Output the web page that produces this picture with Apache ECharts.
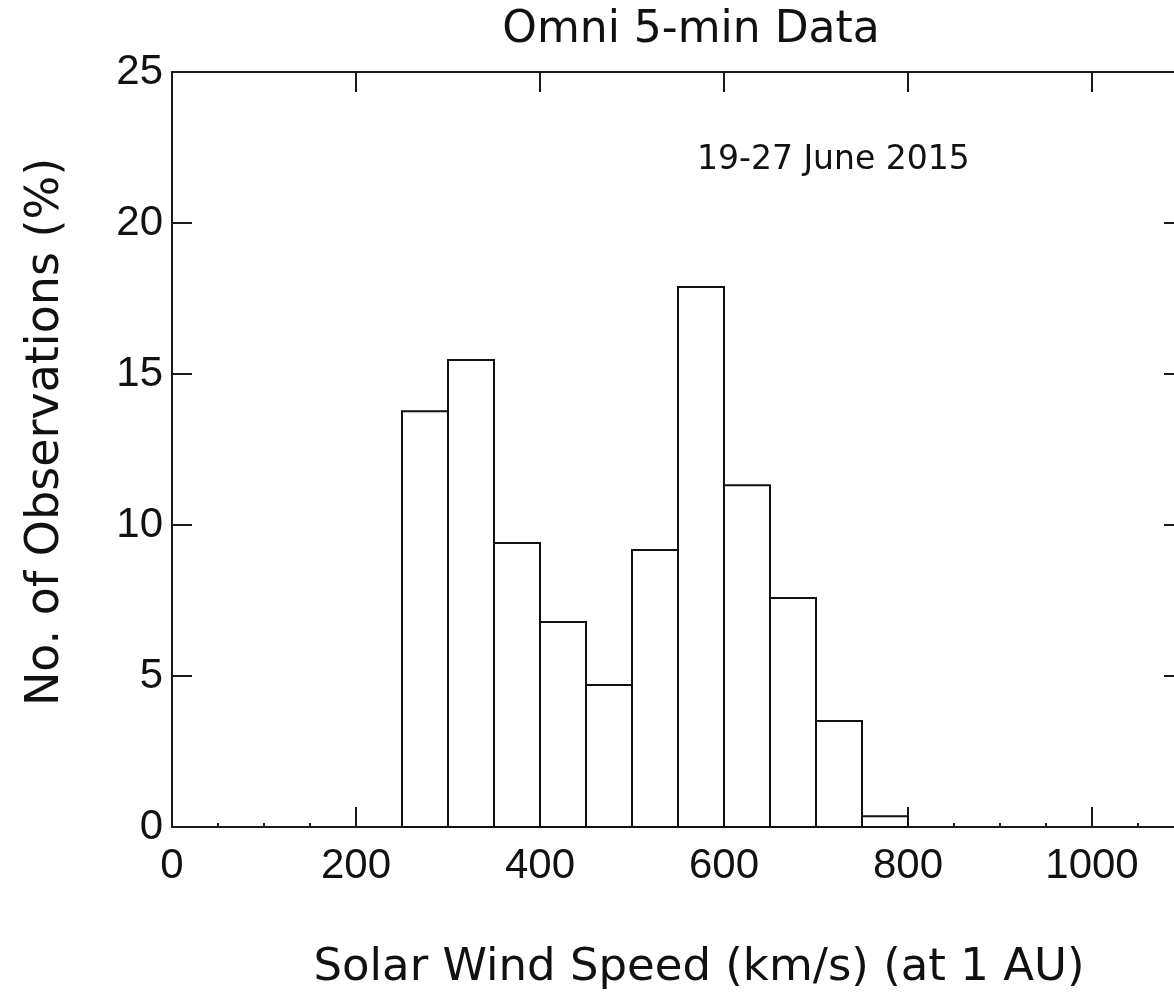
<!DOCTYPE html>
<html>
<head>
<meta charset="utf-8">
<script src="https://cdn.jsdelivr.net/npm/echarts@6/dist/echarts.min.js"></script>
<style>
html,body{margin:0;padding:0;background:#fff;}
#chart{width:1174px;height:1005px;}
</style>
</head>
<body>
<div id="chart"></div>
<script>
// Histogram data: solar wind speed bins (km/s) and % of observations
const binStart = [250, 300, 350, 400, 450, 500, 550, 600, 650, 700, 750];
const binEnd   = [300, 350, 400, 450, 500, 550, 600, 650, 700, 750, 800];
const percent  = [13.77, 15.46, 9.40, 6.79, 4.70, 9.17, 17.88, 11.32, 7.58, 3.51, 0.36];
const xTicks = [0, 200, 400, 600, 800, 1000];
const yTicks = [0, 5, 10, 15, 20, 25];
const titleText = 'Omni 5-min Data';
const dateText = '19-27 June 2015';
const xTitle = 'Solar Wind Speed (km/s) (at 1 AU)';
const yTitle = 'No. of Observations (%)';

const histData = binStart.map((s, i) => [s, binEnd[i], percent[i]]);

const chart = echarts.init(document.getElementById('chart'), null, {renderer: 'canvas'});
const axisColor = '#1a1a1a';
const labelFont = {fontFamily: 'Liberation Sans', fontSize: 42, color: '#111'};
const titleFont = 'DejaVu Sans';

const baseX = {
  type: 'value', min: 0, max: 1100, interval: 200,
  axisLine: {show: true, onZero: false, lineStyle: {color: axisColor, width: 2}},
  axisTick: {show: true, inside: true, length: 20, lineStyle: {color: axisColor, width: 2}},
  splitLine: {show: false}
};
const baseY = {
  type: 'value', min: 0, max: 25, interval: 5,
  axisLine: {show: true, onZero: false, lineStyle: {color: axisColor, width: 2}},
  axisTick: {show: true, inside: true, length: 20, lineStyle: {color: axisColor, width: 2}},
  splitLine: {show: false}
};

chart.setOption({
  animation: false,
  backgroundColor: '#fff',
  grid: {left: 172, top: 72, width: 1012, height: 755, containLabel: false, outerBoundsMode: 'none'},
  xAxis: [
    Object.assign({}, baseX, {position: 'bottom',
      minorTick: {show: true, splitNumber: 4, length: 4, lineStyle: {color: axisColor, width: 2}},
      axisLabel: Object.assign({show: true, margin: 18, showMaxLabel: false,
        formatter: v => (xTicks.indexOf(v) >= 0 ? String(v) : '')}, labelFont)}),
    Object.assign({}, baseX, {position: 'top', axisLabel: {show: false}})
  ],
  yAxis: [
    Object.assign({}, baseY, {position: 'left',
      axisLabel: Object.assign({show: true, margin: 9,
        formatter: v => (yTicks.indexOf(v) >= 0 ? String(v) : '')}, labelFont)}),
    Object.assign({}, baseY, {position: 'right', axisLabel: {show: false}})
  ],
  graphic: [
    {type: 'text', x: 691, y: 31, style: {text: titleText, font: '44px "' + titleFont + '"', fill: '#111', align: 'center', verticalAlign: 'middle'}},
    {type: 'text', x: 697, y: 160, style: {text: dateText, font: '33px "' + titleFont + '"', fill: '#111', align: 'left', verticalAlign: 'middle'}},
    {type: 'text', x: 699, y: 968, style: {text: xTitle, font: '45px "' + titleFont + '"', fill: '#111', align: 'center', verticalAlign: 'middle'}},
    {type: 'text', x: 46, y: 432, rotation: Math.PI / 2, style: {text: yTitle, font: '46px "' + titleFont + '"', fill: '#111', align: 'center', verticalAlign: 'middle'}}
  ],
  series: [{
    type: 'custom',
    xAxisIndex: 0, yAxisIndex: 0,
    data: histData,
    clip: false,
    renderItem: function (params, api) {
      const p0 = api.coord([api.value(0), 0]);
      const p1 = api.coord([api.value(1), api.value(2)]);
      return {
        type: 'rect',
        shape: {x: p0[0], y: p1[1], width: p1[0] - p0[0], height: p0[1] - p1[1]},
        style: {fill: '#fff', stroke: '#111', lineWidth: 2}
      };
    },
    encode: {x: [0, 1], y: 2}
  }]
});
</script>
</body>
</html>
